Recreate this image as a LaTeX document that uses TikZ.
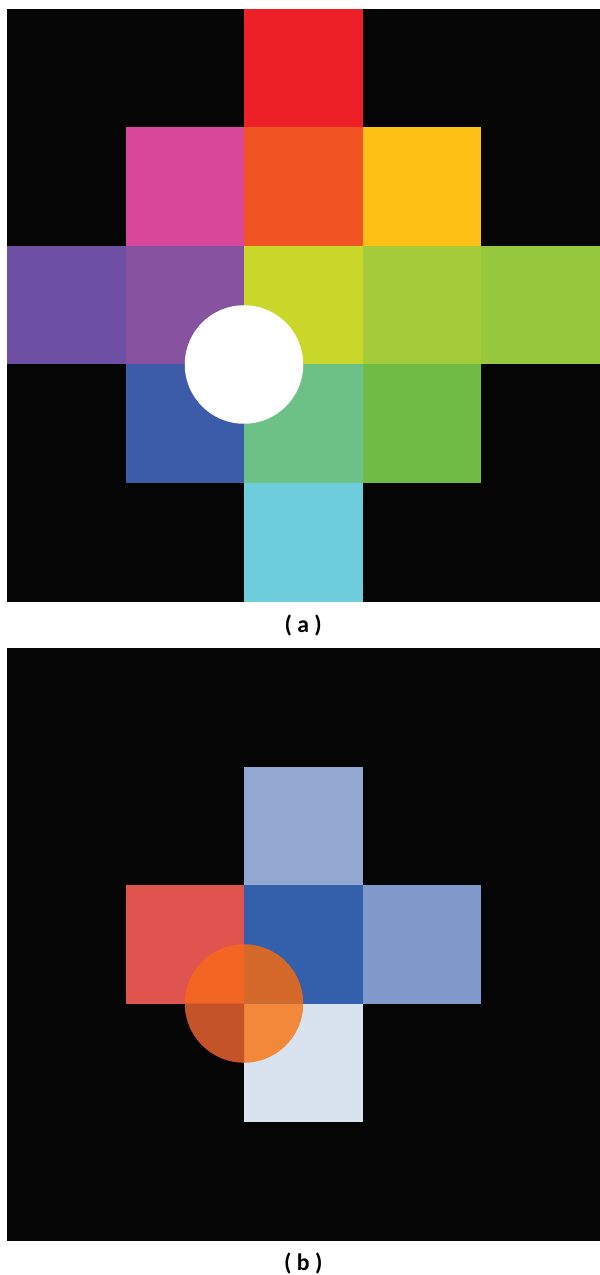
\documentclass[tikz,border=0pt]{standalone}
\usepackage{fontspec}
\setmainfont{Carlito}

\definecolor{bgblack}{HTML}{050505}
% panel a
\definecolor{cred}{HTML}{EE2027}
\definecolor{cmagenta}{HTML}{D8479A}
\definecolor{corange}{HTML}{F05423}
\definecolor{cyellow}{HTML}{FEC014}
\definecolor{cpurple}{HTML}{6D4FA3}
\definecolor{cviolet}{HTML}{8752A0}
\definecolor{clime}{HTML}{C8D72A}
\definecolor{cyellowgreen}{HTML}{A4CB3A}
\definecolor{clightgreen}{HTML}{96C83D}
\definecolor{cblue}{HTML}{3C5BA8}
\definecolor{cseagreen}{HTML}{6CC186}
\definecolor{cgreen}{HTML}{6FBB44}
\definecolor{ccyan}{HTML}{6DCDDC}
% panel b
\definecolor{bpaleblue}{HTML}{92A8D1}
\definecolor{bred}{HTML}{DF544E}
\definecolor{bblue}{HTML}{3460AB}
\definecolor{bmidblue}{HTML}{7F9ACB}
\definecolor{bpale}{HTML}{D9E2EF}
\definecolor{borangetl}{HTML}{F26522}
\definecolor{borangetr}{HTML}{D4692A}
\definecolor{borangebl}{HTML}{C5532A}
\definecolor{borangebr}{HTML}{F3873A}

\begin{document}
\begin{tikzpicture}[
        every node/.style={
            font=\bfseries\fontsize{13.5}{16}\selectfont
        }
    ]
        \useasboundingbox (0,0) rectangle (11.98,-25.5);

        % Panel a
        \begin{scope}[shift={(0.14,-0.18)}, x=2.37cm, y=-2.37cm]
            \fill[bgblack] (0, 0) rectangle (5, 5);

            \fill[cred] (2, 0) rectangle (3, 1);

            \fill[cmagenta] (1, 1) rectangle (2, 2);
            \fill[corange] (2, 1) rectangle (3, 2);
            \fill[cyellow] (3, 1) rectangle (4, 2);

            \fill[cpurple] (0, 2) rectangle (1, 3);
            \fill[cviolet] (1, 2) rectangle (2, 3);
            \fill[clime] (2, 2) rectangle (3, 3);
            \fill[cyellowgreen] (3, 2) rectangle (4, 3);
            \fill[clightgreen] (4, 2) rectangle (5, 3);

            \fill[cblue] (1, 3) rectangle (2, 4);
            \fill[cseagreen] (2, 3) rectangle (3, 4);
            \fill[cgreen] (3, 3) rectangle (4, 4);

            \fill[ccyan] (2, 4) rectangle (3, 5);

            \fill[white] (2, 3) circle (0.5);

            \node (labela) at (2.5, 5.2) {( a )};
        \end{scope}

        % Panel b
        \begin{scope}[shift={(0.14,-12.96)}, x=2.37cm, y=-2.37cm]
            \fill[bgblack] (0, 0) rectangle (5, 5);

            \fill[bpaleblue] (2, 1) rectangle (3, 2);

            \fill[bred] (1, 2) rectangle (2, 3);
            \fill[bblue] (2, 2) rectangle (3, 3);
            \fill[bmidblue] (3, 2) rectangle (4, 3);

            \fill[bpale] (2, 3) rectangle (3, 4);

            \fill[borangetl] (2, 3) -- (1.5, 3) arc (180:270:0.5) -- cycle;
            \fill[borangetr] (2, 3) -- (2, 2.5) arc (270:360:0.5) -- cycle;
            \fill[borangebr] (2, 3) -- (2.5, 3) arc (0:90:0.5) -- cycle;
            \fill[borangebl] (2, 3) -- (2, 3.5) arc (90:180:0.5) -- cycle;

            \node (labelb) at (2.5, 5.19) {( b )};
        \end{scope}

    \end{tikzpicture}
\end{document}
